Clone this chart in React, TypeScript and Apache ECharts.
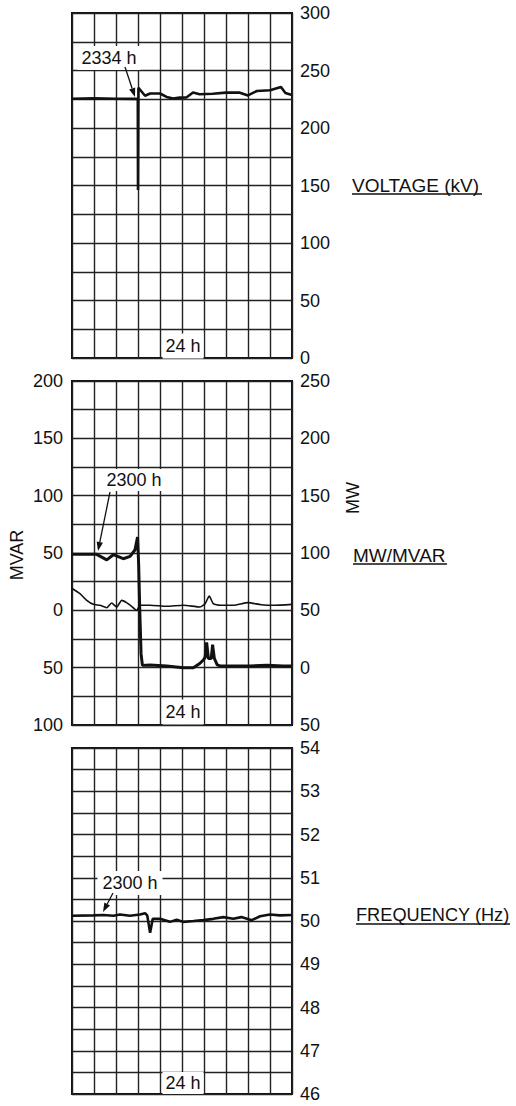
import React, { useEffect, useRef } from "react";
import * as echarts from "echarts";

// ---- data (x in chart divisions, 0..10; "24 h" marks the middle) ----
const voltageT = [0, 1, 2, 2.9, 2.99, 3.0, 3.02, 3.32, 3.55, 4.0, 4.3, 4.6, 4.9, 5.2, 5.5, 5.8, 6.4, 7.0, 7.6, 8.0, 8.4, 9.0, 9.5, 9.7, 10];
const voltageKV = [225.5, 225.8, 225.5, 225.3, 225.5, 146, 235, 228, 230, 230, 227, 225.6, 226.4, 226.5, 230.8, 229.3, 229.8, 230.8, 230.8, 228.3, 232.2, 232.8, 235.7, 230.5, 228.8];

const mwT = [0, 1.1, 1.58, 1.88, 2.33, 2.64, 2.86, 2.98, 3.03, 3.08, 3.14, 3.2, 3.55, 4.3, 5.06, 5.52, 5.82, 5.97, 6.05, 6.12, 6.2, 6.33, 6.39, 6.47, 6.6, 6.73, 7.33, 8.09, 8.85, 9.6, 10];
const mwValues = [99, 99, 94, 98.5, 95, 97, 102.6, 114, 90, 50, 12, 2, 2.4, 1.5, 0, 0, 3.8, 6.7, 9, 22, 8, 8, 20, 8, 2.5, 1.5, 1.5, 1.5, 2, 1.5, 1.5];

const mvarT = [0, 0.36, 0.67, 0.97, 1.27, 1.58, 1.8, 2.03, 2.26, 2.48, 2.71, 2.94, 3.09, 3.55, 4.3, 5.06, 5.82, 6.05, 6.24, 6.42, 6.73, 7.33, 8.0, 8.6, 9.2, 10];
const mvarValues = [19, 14.5, 8.7, 5.2, 4.4, 2.3, 6.4, 2.9, 8.7, 6.7, 3.5, 0, 4.4, 4.4, 3.5, 4.4, 2.9, 5.8, 12.5, 5.8, 4.4, 4.4, 6.7, 4.9, 4.4, 5.2];

const freqT = [0, 0.97, 1.42, 1.88, 2.18, 2.64, 3.09, 3.32, 3.42, 3.55, 3.67, 4.0, 4.45, 4.76, 5.06, 5.52, 5.97, 6.42, 6.88, 7.33, 7.7, 8.17, 8.55, 9.0, 9.45, 10];
const freqHz = [50.12, 50.13, 50.14, 50.12, 50.15, 50.12, 50.15, 50.18, 50.13, 49.73, 50.05, 50.05, 49.98, 50.03, 49.98, 50.0, 50.02, 50.05, 50.09, 50.05, 50.09, 50.02, 50.11, 50.15, 50.13, 50.14];

const titles = ["VOLTAGE (kV)", "MW/MVAR", "FREQUENCY (Hz)"];
const eventLabels = ["2334 h", "2300 h", "2300 h"];
const timeLabel = "24 h";

const FONT = "Liberation Sans, Arial, Helvetica, sans-serif";
const INK = "#111";

const pairs = (xs: number[], ys: number[]) => xs.map((x, i) => [x, ys[i]]);

function arrow(x1: number, y1: number, x2: number, y2: number) {
  const ang = Math.atan2(y2 - y1, x2 - x1);
  const L = 9, W = 3.2;
  const bx = x2 - L * Math.cos(ang), by = y2 - L * Math.sin(ang);
  const px = -Math.sin(ang) * W, py = Math.cos(ang) * W;
  return [
    { type: "line", z: 100, shape: { x1, y1, x2: bx, y2: by }, style: { stroke: INK, lineWidth: 1.3 } },
    { type: "polygon", z: 100, shape: { points: [[x2, y2], [bx + px, by + py], [bx - px, by - py]] }, style: { fill: INK } },
  ];
}

function boxText(text: string, x: number, y: number, pad: number[]) {
  return {
    type: "text",
    z: 100,
    x,
    y,
    style: {
      text,
      font: `18px ${FONT}`,
      fill: INK,
      align: "center",
      verticalAlign: "middle",
      backgroundColor: "#fff",
      padding: pad,
      lineHeight: 18,
    },
  };
}

function title(text: string, x: number, y: number, w: number, size: number) {
  return [
    { type: "text", z: 100, x, y, style: { text, font: `${size}px ${FONT}`, fill: INK, align: "left", verticalAlign: "middle" } },
    { type: "line", z: 100, shape: { x1: x, y1: y + 9, x2: x + w, y2: y + 9 }, style: { stroke: INK, lineWidth: 1.3 } },
  ];
}

export default function App() {
  const ref = useRef<HTMLDivElement>(null);
  useEffect(() => {
    if (!ref.current) return;
    const chart = echarts.init(ref.current, undefined, { renderer: "svg" });
    const gridBase = { left: 72, width: 220, show: true, borderColor: INK, borderWidth: 2, backgroundColor: "#fff" };
    const split = { show: true, lineStyle: { color: "#222", width: 1.4 } };
    const xAx = (gi: number) => ({
      type: "value", gridIndex: gi, min: 0, max: 10, interval: 1,
      axisLabel: { show: false }, axisTick: { show: false }, axisLine: { show: false }, splitLine: split,
    });
    const lab = (step: number, fmt: (v: number) => string, margin: number) => ({
      show: true, color: INK, fontSize: 18, fontFamily: FONT, margin,
      formatter: (v: number) => (Math.abs(Math.round(v / step) * step - v) < 1e-6 ? fmt(v) : ""),
    });
    const option: any = {
      animation: false,
      backgroundColor: "#fff",
      grid: [
        { ...gridBase, top: 13, height: 345 },
        { ...gridBase, top: 381, height: 344 },
        { ...gridBase, top: 748, height: 346 },
      ],
      xAxis: [xAx(0), xAx(1), xAx(2)],
      yAxis: [
        { type: "value", gridIndex: 0, position: "right", min: 0, max: 300, interval: 25,
          axisLabel: lab(50, (v) => String(v), 8), axisTick: { show: false }, axisLine: { show: false }, splitLine: split },
        { type: "value", gridIndex: 1, position: "left", min: -100, max: 200, interval: 25,
          axisLabel: lab(50, (v) => String(Math.abs(v)), 9), axisTick: { show: false }, axisLine: { show: false }, splitLine: split },
        { type: "value", gridIndex: 1, position: "right", min: -50, max: 250, interval: 25,
          axisLabel: lab(50, (v) => String(Math.abs(v)), 8), axisTick: { show: false }, axisLine: { show: false }, splitLine: { show: false } },
        { type: "value", gridIndex: 2, position: "right", min: 46, max: 54, interval: 0.5,
          axisLabel: lab(1, (v) => String(v), 8), axisTick: { show: false }, axisLine: { show: false }, splitLine: split },
      ],
      series: [
        { type: "line", name: "Voltage", xAxisIndex: 0, yAxisIndex: 0, data: pairs(voltageT, voltageKV), symbol: "none",
          lineStyle: { color: INK, width: 2.6 }, z: 5 },
        { type: "line", name: "MW", xAxisIndex: 1, yAxisIndex: 2, data: pairs(mwT, mwValues), symbol: "none",
          lineStyle: { color: INK, width: 3 }, z: 5 },
        { type: "line", name: "MVAR", xAxisIndex: 1, yAxisIndex: 1, data: pairs(mvarT, mvarValues), symbol: "none", smooth: 0.2,
          lineStyle: { color: INK, width: 1.6 }, z: 5 },
        { type: "line", name: "Frequency", xAxisIndex: 2, yAxisIndex: 3, data: pairs(freqT, freqHz), symbol: "none",
          lineStyle: { color: INK, width: 2.6 }, z: 5 },
      ],
      graphic: [
        // event annotations
        boxText(eventLabels[0], 109, 58, [3, 4, 3, 4]),
        ...arrow(125, 67, 135, 97),
        boxText(eventLabels[1], 134, 480, [2, 4, 2, 4]),
        ...arrow(110, 492, 98, 551),
        boxText(eventLabels[2], 130, 883, [3, 5, 3, 5]),
        ...arrow(113, 893, 103, 912),
        // 24 h markers
        boxText(timeLabel, 183, 346, [4, 3, 3, 3]),
        boxText(timeLabel, 183, 712, [4, 3, 3, 3]),
        boxText(timeLabel, 183, 1083, [2, 3, 2, 3]),
        // panel titles
        ...title(titles[0], 352, 185, 130, 19),
        ...title(titles[1], 353, 555, 94, 19),
        ...title(titles[2], 356, 915, 154, 18.2),
        // axis names
        { type: "text", z: 100, x: 17, y: 555, rotation: Math.PI / 2,
          style: { text: "MVAR", font: `18px ${FONT}`, fill: INK, align: "center", verticalAlign: "middle" } },
        { type: "text", z: 100, x: 353, y: 498, rotation: Math.PI / 2,
          style: { text: "MW", font: `18px ${FONT}`, fill: INK, align: "center", verticalAlign: "middle" } },
      ],
    };
    chart.setOption(option);
    return () => chart.dispose();
  }, []);
  return <div ref={ref} style={{ position: "absolute", left: 0, top: 0, width: 516, height: 1106 }} />;
}
